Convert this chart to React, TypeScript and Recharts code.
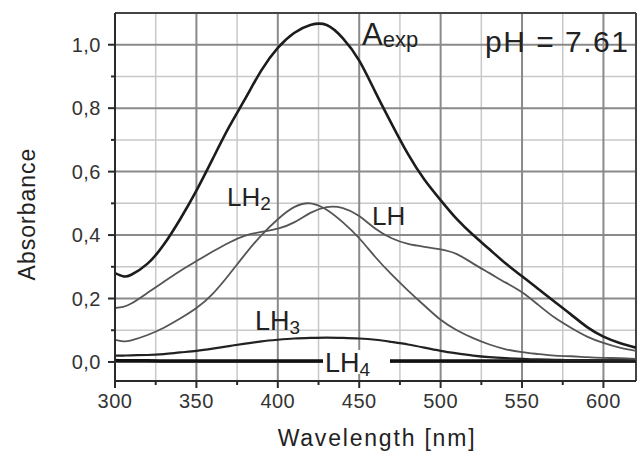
import { LineChart, Line, XAxis, YAxis, CartesianGrid } from "recharts";

// wavelength grid (nm) shared by all spectra
const wavelengths = [
  300, 305, 310, 320, 330, 340, 350, 360, 370, 380, 390, 400, 410, 420, 430, 440, 450,
  460, 470, 480, 490, 500, 510, 520, 530, 540, 550, 560, 570, 580, 590, 600, 610, 620,
];

const aExp = [
  0.28, 0.27, 0.275, 0.31, 0.37, 0.45, 0.54, 0.64, 0.74, 0.83, 0.92, 0.99, 1.037, 1.062, 1.062, 1.02, 0.95,
  0.85, 0.75, 0.655, 0.575, 0.51, 0.45, 0.4, 0.355, 0.31, 0.27, 0.23, 0.19, 0.15, 0.11, 0.08, 0.06, 0.045,
];
const lh = [
  0.17, 0.174, 0.184, 0.218, 0.253, 0.287, 0.318, 0.348, 0.376, 0.398, 0.41, 0.42, 0.44, 0.47, 0.488, 0.485, 0.46,
  0.42, 0.39, 0.372, 0.363, 0.355, 0.34, 0.31, 0.28, 0.25, 0.22, 0.18, 0.14, 0.108, 0.08, 0.06, 0.045, 0.035,
];
const lh2 = [
  0.07, 0.065, 0.068, 0.085, 0.108, 0.137, 0.17, 0.215, 0.275, 0.34, 0.4, 0.45, 0.488, 0.5, 0.48, 0.44, 0.39,
  0.33, 0.275, 0.225, 0.178, 0.133, 0.1, 0.075, 0.055, 0.04, 0.031, 0.025, 0.02, 0.018, 0.015, 0.013, 0.012, 0.01,
];
const lh3 = [
  0.02, 0.02, 0.021, 0.022, 0.025, 0.03, 0.035, 0.042, 0.05, 0.058, 0.065, 0.07, 0.074, 0.076, 0.077, 0.076, 0.074,
  0.07, 0.063, 0.055, 0.045, 0.035, 0.027, 0.02, 0.015, 0.012, 0.01, 0.008, 0.007, 0.006, 0.006, 0.005, 0.005, 0.005,
];
const lh4 = [
  0.005, 0.004, 0.004, 0.004, 0.003, 0.003, 0.003, 0.003, 0.003, 0.003, 0.003, 0.003, 0.003, 0.003, 0.003, 0.003, 0.003,
  0.003, 0.003, 0.003, 0.003, 0.003, 0.003, 0.003, 0.003, 0.003, 0.003, 0.003, 0.003, 0.003, 0.003, 0.003, 0.003, 0.003,
];

const xTicks = [300, 325, 350, 375, 400, 425, 450, 475, 500, 525, 550, 575, 600];
const xMajor = [300, 350, 400, 450, 500, 550, 600];
const xMinor = [325, 375, 425, 475, 525, 575];
const yTicks = [0, 0.1, 0.2, 0.3, 0.4, 0.5, 0.6, 0.7, 0.8, 0.9, 1.0];
const yMajor = [0, 0.2, 0.4, 0.6, 0.8, 1.0];
const yMinor = [0.1, 0.3, 0.5, 0.7, 0.9];

const data = wavelengths.map((wl, i) => ({
  wl,
  aExp: aExp[i],
  lh: lh[i],
  lh2: lh2[i],
  lh3: lh3[i],
  lh4: lh4[i],
}));

const FONT = "'Liberation Sans', Arial, sans-serif";
const INK = "#2a2a2a";

const XTick = ({ x, y, payload }: any) => {
  const major = payload.value % 50 === 0;
  return (
    <g>
      <line x1={x} x2={x} y1={y} y2={y + (major ? 7 : 4)} stroke={INK} strokeWidth={2} />
      {major && (
        <text x={x} y={y + 27} textAnchor="middle" fontSize={20} fontFamily={FONT} fill="#333" letterSpacing={0.5}>
          {payload.value}
        </text>
      )}
    </g>
  );
};

const YTick = ({ x, y, payload }: any) => {
  const major = Math.round(payload.value * 10) % 2 === 0;
  return (
    <g>
      <line x1={x} x2={x - (major ? 7 : 4)} y1={y} y2={y} stroke={INK} strokeWidth={2} />
      {major && (
        <text x={x - 14} y={y + 7} textAnchor="end" fontSize={20} fontFamily={FONT} fill="#333" letterSpacing={0.5}>
          {payload.value.toFixed(1).replace(".", ",")}
        </text>
      )}
    </g>
  );
};

export default function App() {
  return (
    <div style={{ position: "absolute", left: 0, top: 0, width: 639, height: 454, background: "#fff" }}>
      <LineChart width={639} height={454} data={data} margin={{ top: 13, right: 3, left: 0, bottom: 0 }}>
        <CartesianGrid horizontalValues={yMinor} verticalValues={xMinor} stroke="#c8c8c8" strokeWidth={1.5} />
        <CartesianGrid horizontalValues={yMajor} verticalValues={xMajor} stroke="#8a8a8a" strokeWidth={2} />
        <CartesianGrid horizontalValues={[1.1]} verticalValues={[620]} stroke="#444" strokeWidth={2} />
        <XAxis
          type="number"
          dataKey="wl"
          domain={[300, 620]}
          ticks={xTicks}
          interval={0}
          tickLine={false}
          tickSize={0}
          tickMargin={0}
          tick={(p: any) => <XTick {...p} />}
          axisLine={{ stroke: INK, strokeWidth: 2 }}
          height={73}
          allowDataOverflow
        />
        <YAxis
          type="number"
          domain={[-0.06, 1.1]}
          ticks={yTicks}
          interval={0}
          tickLine={false}
          tickSize={0}
          tickMargin={0}
          tick={(p: any) => <YTick {...p} />}
          axisLine={{ stroke: INK, strokeWidth: 2 }}
          width={115}
          allowDataOverflow
        />
        <Line type="natural" dataKey="lh4" stroke="#111" strokeWidth={3.5} dot={false} isAnimationActive={false} />
        <Line type="natural" dataKey="lh3" stroke="#222" strokeWidth={2.2} dot={false} isAnimationActive={false} />
        <Line type="natural" dataKey="lh2" stroke="#555" strokeWidth={1.8} dot={false} isAnimationActive={false} />
        <Line type="natural" dataKey="lh" stroke="#555" strokeWidth={1.8} dot={false} isAnimationActive={false} />
        <Line type="natural" dataKey="aExp" stroke="#1c1c1c" strokeWidth={2.6} dot={false} isAnimationActive={false} />
      </LineChart>
      <svg
        width={639}
        height={454}
        style={{ position: "absolute", left: 0, top: 0, pointerEvents: "none" }}
        fontFamily={FONT}
        fill="#222"
      >
        <text x={362} y={45} fontSize={31}>
          A
          <tspan fontSize={22} dy={2}>exp</tspan>
        </text>
        <text x={485} y={52} fontSize={30} letterSpacing={1.5}>pH = 7.61</text>
        <text x={227} y={206} fontSize={26}>
          LH<tspan fontSize={19} dy={4}>2</tspan>
        </text>
        <text x={372} y={225} fontSize={26}>LH</text>
        <text x={255} y={330} fontSize={27}>
          LH<tspan fontSize={19} dy={4}>3</tspan>
        </text>
        <rect x={323} y={350} width={67} height={24} fill="#fff" />
        <text x={325} y={372} fontSize={27}>
          LH<tspan fontSize={19} dy={4}>4</tspan>
        </text>
        <text x={35} y={214} fontSize={23} letterSpacing={1} textAnchor="middle" transform="rotate(-90 35 214)">
          Absorbance
        </text>
        <text x={377} y={446} fontSize={23} letterSpacing={1.8} textAnchor="middle">
          Wavelength [nm]
        </text>
      </svg>
    </div>
  );
}
